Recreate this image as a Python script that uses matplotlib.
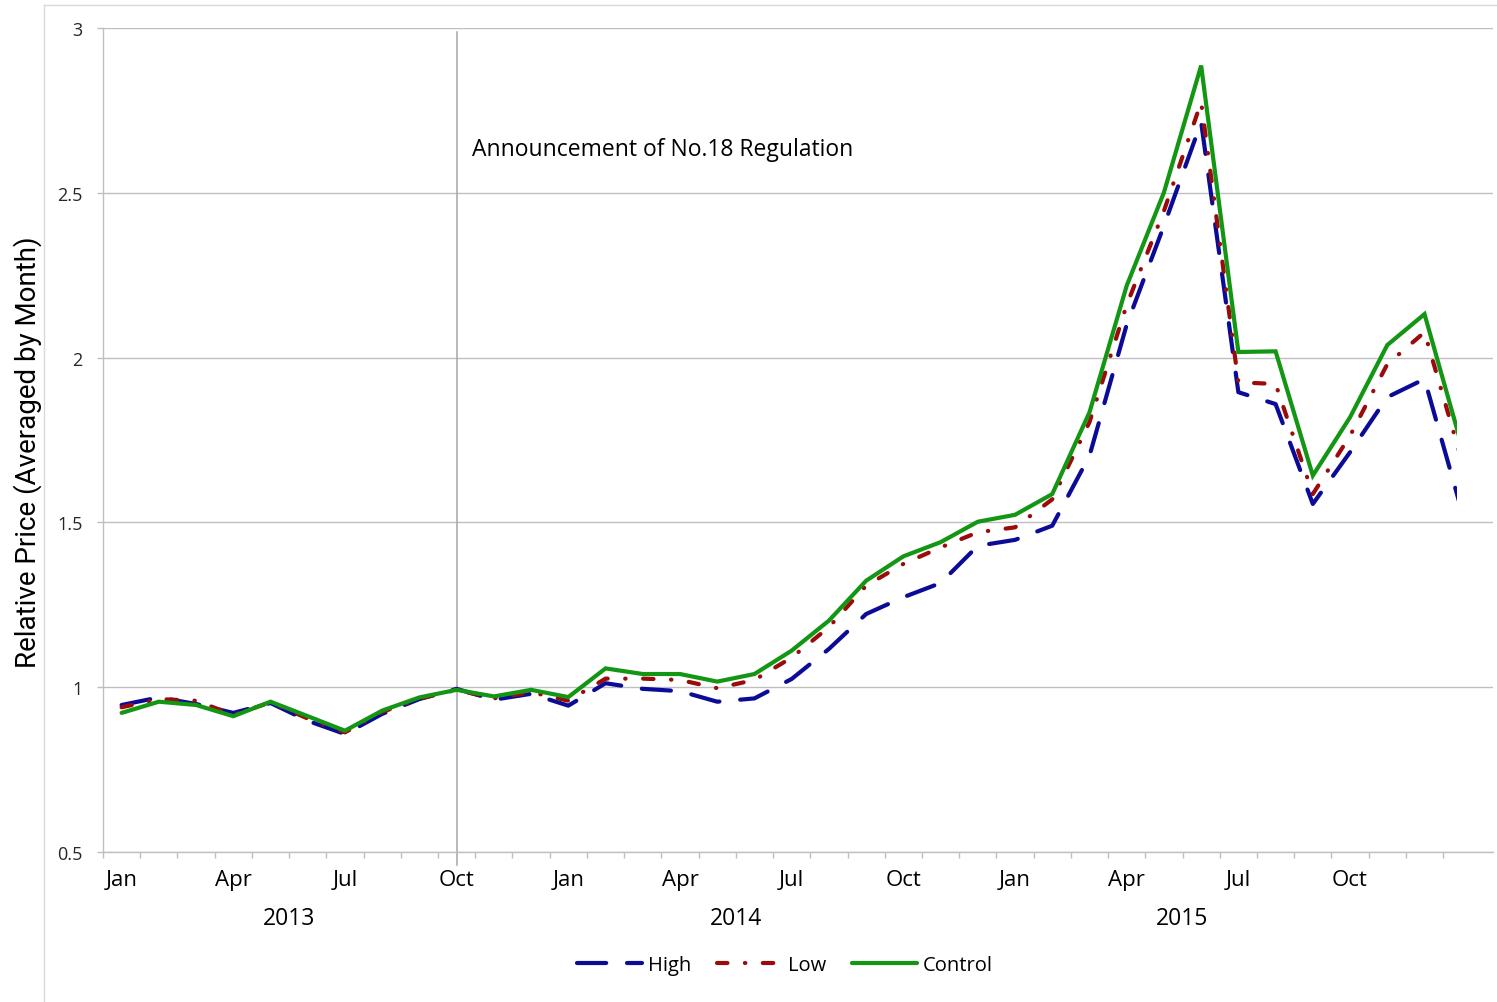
import matplotlib
matplotlib.use('Agg')
import matplotlib.pyplot as plt
import matplotlib.transforms as mtransforms
from matplotlib.patches import Rectangle
from matplotlib.lines import Line2D
import numpy as np

# ---------------- data ----------------
month_names = ['Jan', 'Feb', 'Mar', 'Apr', 'May', 'Jun',
               'Jul', 'Aug', 'Sep', 'Oct', 'Nov', 'Dec']
years = ['2013', '2014', '2015']

# Jan 2013 .. Jan 2016 (last point only partly visible)
high = [0.946, 0.969, 0.949, 0.922, 0.952, 0.898, 0.858, 0.919, 0.964, 0.995, 0.962, 0.980,
        0.944, 1.012, 0.995, 0.988, 0.956, 0.966, 1.025, 1.116, 1.222, 1.273, 1.316, 1.429,
        1.447, 1.490, 1.702, 2.100, 2.400, 2.714, 1.895, 1.859, 1.556, 1.713, 1.880, 1.935,
        1.535]
low = [0.939, 0.964, 0.959, 0.916, 0.954, 0.905, 0.863, 0.925, 0.965, 0.992, 0.966, 0.985,
       0.959, 1.026, 1.026, 1.022, 0.997, 1.022, 1.090, 1.182, 1.308, 1.374, 1.424, 1.470,
       1.485, 1.570, 1.804, 2.160, 2.445, 2.775, 1.925, 1.920, 1.586, 1.763, 1.980, 2.077,
       1.689]
control = [0.922, 0.956, 0.946, 0.912, 0.956, 0.912, 0.868, 0.929, 0.969, 0.992, 0.972, 0.992,
           0.970, 1.057, 1.040, 1.040, 1.017, 1.040, 1.111, 1.202, 1.323, 1.397, 1.440, 1.502,
           1.523, 1.586, 1.834, 2.218, 2.501, 2.886, 2.017, 2.019, 1.642, 1.819, 2.038, 2.132,
           1.733]
series_names = ['High', 'Low', 'Control']
announce_month = 9  # Oct 2013
announce_text = 'Announcement of No.18 Regulation'
y_ticks = [0.5, 1, 1.5, 2, 2.5, 3]
y_ticklabels = ['0.5', '1', '1.5', '2', '2.5', '3']

# ---------------- style ----------------
plt.rcParams['font.family'] = ['Open Sans', 'DejaVu Sans']
W, H = 1497, 1003
fig = plt.figure(figsize=(W / 100, H / 100), dpi=100)
ax = fig.add_axes([103 / W, 1 - 853 / H, (1493 - 103) / W, (853 - 29) / H])

BLUE = '#0B0B98'
RED = '#9A0B0B'
GREEN = '#139613'
GRID = '#BFBFBF'

n_months = 36
x = np.arange(len(control))
clip_rect = Rectangle((-0.5, 0.0), 35.88 + 0.5, 4.0, transform=ax.transData,
                      facecolor='none', edgecolor='none')

lh, = ax.plot(x, high, color=BLUE, lw=3, dashes=(7, 5),
              dash_capstyle='round', solid_capstyle='round', zorder=3)
ll, = ax.plot(x, low, color=RED, lw=3, dashes=(2.5, 4.2, 0.1, 4.2),
              dash_capstyle='round', solid_capstyle='round', zorder=4)
lc, = ax.plot(x, control, color=GREEN, lw=3, solid_capstyle='round',
              solid_joinstyle='miter', zorder=5)
for ln in (lh, ll, lc):
    ln.set_clip_path(clip_rect)

ax.set_xlim(-0.5, 36.84)
ax.set_ylim(0.5, 3)

# y axis
ax.set_yticks(y_ticks)
ax.set_yticklabels(y_ticklabels)
ax.yaxis.grid(True, color=GRID, lw=1.0)
ax.set_axisbelow(True)
ax.tick_params(axis='y', direction='out', length=4.5, width=1, color=GRID,
               labelsize=13, labelcolor='#262626', pad=10)

# x axis: tick marks at month boundaries, labels at quarter months
ax.set_xticks(np.arange(-0.5, n_months, 1.0))
ax.set_xticklabels([])
ax.tick_params(axis='x', which='major', direction='out', length=4, width=1, color=GRID)
label_pos = list(range(0, n_months, 3))
ax.set_xticks(label_pos, minor=True)
ax.set_xticklabels([month_names[i % 12] for i in label_pos], minor=True)
ax.tick_params(axis='x', which='minor', length=0, labelsize=16, pad=12, labelcolor='black')

for s in ('top', 'right'):
    ax.spines[s].set_visible(False)
for s in ('left', 'bottom'):
    ax.spines[s].set_color(GRID)
    ax.spines[s].set_linewidth(1.0)

# year labels
trans = mtransforms.blended_transform_factory(ax.transData, ax.transAxes)
for k, yr in enumerate(years):
    ax.text(12 * k + 4.5, -0.0795, yr, transform=trans, ha='center', va='center',
            fontsize=16.5, color='black')

# announcement line and text
ax.plot([announce_month, announce_month], [0.46, 2.988], color='#A6A6A6', lw=1.1,
        clip_on=False, zorder=2)
ax.text(announce_month + 0.4, 2.633, announce_text, ha='left', va='center',
        fontsize=16.5, color='black')

# y label
fig.text(28 / W, 1 - 452 / H, 'Relative Price (Averaged by Month)', rotation=90,
         ha='center', va='center', fontsize=20,
         family=['Roboto', 'DejaVu Sans'], color='black')

# legend
handles = [
    Line2D([], [], color=BLUE, lw=3, dashes=(7, 5), dash_capstyle='round'),
    Line2D([], [], color=RED, lw=3, dashes=(2.5, 4.2, 0.1, 4.2), dash_capstyle='round'),
    Line2D([], [], color=GREEN, lw=3, solid_capstyle='round'),
]
fig.legend(handles, series_names, loc='center', bbox_to_anchor=(785 / W, 1 - 966 / H),
           ncol=3, frameon=False, fontsize=14.5, handlelength=3.2, handletextpad=0.3,
           columnspacing=1.3)

# chart area border (top & left)
fig.add_artist(Line2D([44 / W, 1.0], [1 - 6 / H, 1 - 6 / H], color='#D9D9D9', lw=1))
fig.add_artist(Line2D([44 / W, 44 / W], [0.0, 1 - 6 / H], color='#D9D9D9', lw=1))

fig.savefig('out.png', dpi=100)
